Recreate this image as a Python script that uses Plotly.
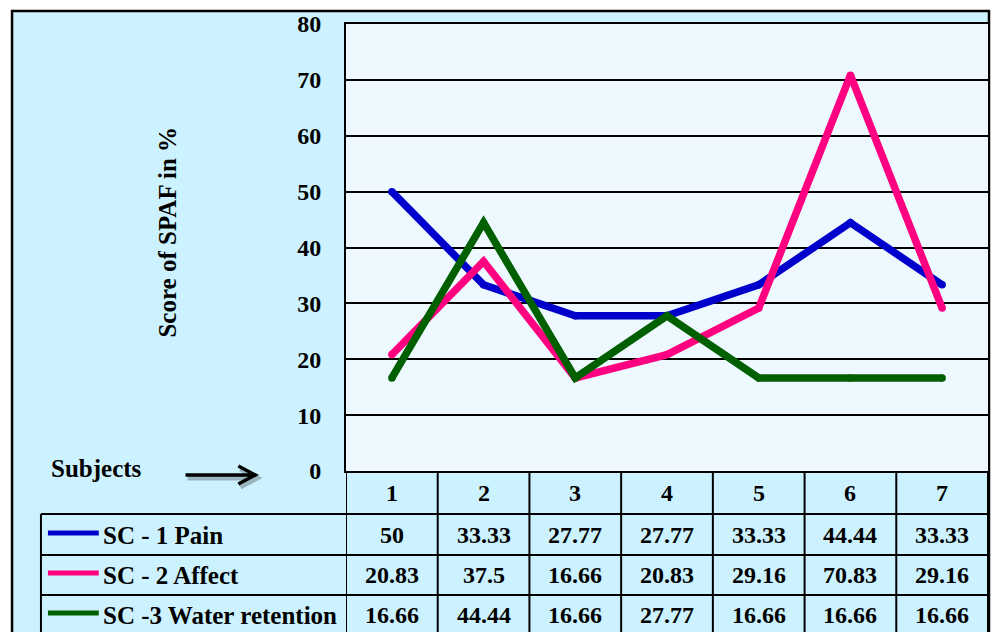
import plotly.graph_objects as go

# ---- data ----
subjects = [1, 2, 3, 4, 5, 6, 7]
series_names = ["SC - 1 Pain", "SC - 2 Affect", "SC -3 Water retention"]
pain = [50, 33.33, 27.77, 27.77, 33.33, 44.44, 33.33]
affect = [20.83, 37.5, 16.66, 20.83, 29.16, 70.83, 29.16]
water = [16.66, 44.44, 16.66, 27.77, 16.66, 16.66, 16.66]
series_values = [pain, affect, water]
series_colors = ["#0000CC", "#FF0080", "#006000"]
y_ticks = [0, 10, 20, 30, 40, 50, 60, 70, 80]

# ---- geometry (pixels) ----
W, H = 994, 632
ML, MR, MT, MB = 346, 4, 24, 161
PW, PH = W - ML - MR, H - MT - MB
BOTTOM = H - MB


def px(x):
    return (x - ML) / PW


def py(y):
    return (BOTTOM - y) / PH


FONT = dict(family="Liberation Serif", size=24, color="black", weight="bold")
LABEL_FONT = dict(FONT, size=25)
FRAME_BG = "#CCF2FF"
PLOT_BG = "#EEF9FF"
LINE_W = 7.5

fig = go.Figure()

for name, vals, col in zip(series_names, series_values, series_colors):
    # thick line with round dots at the vertices for rounded joins/ends
    fig.add_trace(go.Scatter(
        x=subjects, y=vals, mode="lines+markers", name=name,
        line=dict(color=col, width=LINE_W),
        marker=dict(color=col, size=LINE_W, line=dict(width=0)),
        showlegend=False,
    ))

shapes = []
# outer frame
shapes.append(dict(type="rect", xref="paper", yref="paper", layer="below",
                   x0=px(11), x1=px(991), y0=py(650), y1=py(11),
                   fillcolor=FRAME_BG, line=dict(color="black", width=2.5)))
# plot-area fill
shapes.append(dict(type="rect", xref="paper", yref="paper", layer="below",
                   x0=0, x1=1, y0=0, y1=1, fillcolor=PLOT_BG, line=dict(width=0)))

# data-table grid
row_lines = [514, 555, 595]
for yy in row_lines:
    shapes.append(dict(type="line", xref="paper", yref="paper",
                       x0=px(40), x1=px(990), y0=py(yy), y1=py(yy),
                       line=dict(color="black", width=2)))
shapes.append(dict(type="line", xref="paper", yref="paper",
                   x0=px(40), x1=px(40), y0=py(514), y1=py(650),
                   line=dict(color="black", width=2)))
for k in range(len(subjects) + 1):
    shapes.append(dict(type="line", xref="x", yref="paper",
                       x0=k + 0.5, x1=k + 0.5, y0=py(650), y1=0,
                       line=dict(color="black", width=2)))

# legend keys in the table rows
row_centres = [535, 575, 615]
for yy, col in zip(row_centres, series_colors):
    shapes.append(dict(type="line", xref="paper", yref="paper",
                       x0=px(47), x1=px(98), y0=py(yy - 2), y1=py(yy - 2),
                       line=dict(color=col, width=5)))

# arrow next to "Subjects" (soft shadow + arrow)
arrow_path = "M {a},{y} L {b},{y} M {c},{t} L {d},{y} L {c},{u}"
for dx, dy, colr, wd in [(2, 3, "rgba(0,0,0,0.25)", 5), (0, 0, "black", 3.5)]:
    y0 = py(475 + dy)
    shapes.append(dict(type="path", xref="paper", yref="paper",
                       path=arrow_path.format(a=px(185 + dx), b=px(254 + dx), c=px(238 + dx),
                                              d=px(255 + dx), y=y0, t=py(466 + dy), u=py(484 + dy)),
                       line=dict(color=colr, width=wd)))

annotations = []
# header row: subject numbers
for s in subjects:
    annotations.append(dict(x=s, y=py(493), xref="x", yref="paper", text=str(s),
                            showarrow=False, font=FONT, xanchor="center", yanchor="middle"))
# value rows
for yy, vals in zip(row_centres, series_values):
    for s, v in zip(subjects, vals):
        annotations.append(dict(x=s, y=py(yy), xref="x", yref="paper", text=f"{v:g}",
                                showarrow=False, font=FONT, xanchor="center", yanchor="middle"))
# row labels
for yy, name in zip(row_centres, series_names):
    annotations.append(dict(x=px(100), y=py(yy), xref="paper", yref="paper", text=name,
                            showarrow=False, font=LABEL_FONT, xanchor="left", yanchor="middle"))
# axis title and "Subjects"
annotations.append(dict(x=px(166), y=py(232), xref="paper", yref="paper", text="Score of SPAF in %",
                        textangle=-90, showarrow=False, font=LABEL_FONT, xanchor="center", yanchor="middle"))
annotations.append(dict(x=px(48), y=py(468), xref="paper", yref="paper", text="Subjects",
                        showarrow=False, font=LABEL_FONT, xanchor="left", yanchor="middle"))

fig.update_layout(
    width=W, height=H, autosize=False,
    margin=dict(l=ML, r=MR, t=MT, b=MB, pad=0),
    paper_bgcolor="white", plot_bgcolor=PLOT_BG,
    shapes=shapes, annotations=annotations,
    xaxis=dict(range=[0.5, 7.5], showticklabels=False, showgrid=False, zeroline=False,
               showline=True, linecolor="black", linewidth=2, mirror=True, fixedrange=True),
    yaxis=dict(range=[0, 80], tickvals=y_ticks, ticktext=[str(t) for t in y_ticks],
               showgrid=True, gridcolor="black", gridwidth=1.5, zeroline=False,
               showline=True, linecolor="black", linewidth=2, mirror=True,
               tickfont=FONT, ticks="", ticklabelstandoff=18, fixedrange=True),
)

fig.write_html("out.html")
